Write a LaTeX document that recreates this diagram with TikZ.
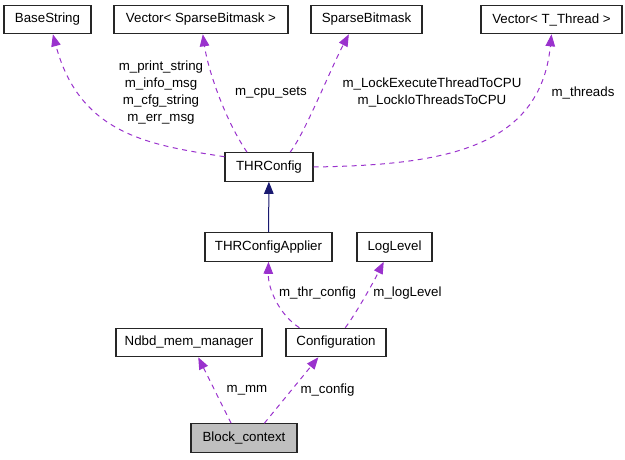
\documentclass[tikz,border=0pt]{standalone}
\usepackage{fontspec}
\setmainfont{Liberation Sans}
\usetikzlibrary{arrows.meta}
\definecolor{memberline}{HTML}{9A32CD}
\definecolor{inheritline}{HTML}{191970}
\definecolor{focusfill}{HTML}{BFBFBF}
\tikzset{
    class/.style = {
        draw = black!85,
        rectangle,
        line width = 1.1pt,
        inner sep = 0pt,
        minimum height = 28.5pt,
        font = \fontsize{13.3}{17}\selectfont,
        },
    focus/.style = {
        fill = focusfill,
        },
    member/.style = {
        draw = memberline,
        line width = 1pt,
        dash pattern = on 5pt off 4.5pt,
        -{Triangle[length=12pt, width=9.5pt, fill=memberline]},
        },
    inherit/.style = {
        draw = inheritline,
        line width = 1pt,
        -{Triangle[length=12pt, width=9.5pt, fill=inheritline]},
        },
    label/.style = {
        align = center,
        inner sep = 0pt,
        font = \fontsize{13.3}{17}\selectfont,
        },
}
\begin{document}
\begin{tikzpicture}[x=1pt, y=-1pt]
            \useasboundingbox (0,0) rectangle (625,459);

            % classes
            \node[class, minimum width=87pt] (basestring) at (47.5,19.5) {BaseString};
            \node[class, minimum width=174pt] (vecsparse) at (201,19.5) {Vector< SparseBitmask >};
            \node[class, minimum width=111pt] (sparse) at (366.5,19.5) {SparseBitmask};
            \node[class, minimum width=141pt] (vecthread) at (551.5,19.5) {Vector< T\_Thread >};
            \node[class, minimum width=88pt] (thrconfig) at (269,167) {THRConfig};
            \node[class, minimum width=127pt] (applier) at (268.5,247) {THRConfigApplier};
            \node[class, minimum width=75pt] (loglevel) at (394.5,247) {LogLevel};
            \node[class, minimum width=146pt] (memmanager) at (189,342.5) {Ndbd\_mem\_manager};
            \node[class, minimum width=100pt] (configuration) at (336,342.5) {Configuration};
            \node[class, focus, minimum width=106pt] (blockctx) at (244,438) {Block\_context};

            % member labels
            \node[label] (lstrings) at (161,93) {m\_print\_string\\m\_info\_msg\\m\_cfg\_string\\m\_err\_msg};
            \node[label] (lcpusets) at (271,93) {m\_cpu\_sets};
            \node[label] (llock) at (432,92) {m\_LockExecuteThreadToCPU\\m\_LockIoThreadsToCPU};
            \node[label] (lthreads) at (583,93) {m\_threads};
            \node[label] (lthrconfig) at (317.5,293) {m\_thr\_config};
            \node[label] (lloglevel) at (407.5,293) {m\_logLevel};
            \node[label] (lmm) at (247,390) {m\_mm};
            \node[label] (lconfig) at (327.5,390) {m\_config};

            \draw[member] (thrconfig.167) .. controls (150,145) and (80,135) .. (basestring.-70);
            \draw[member] (thrconfig.146) .. controls (225,120) and (208,70) .. (vecsparse.-83);
            \draw[member] (thrconfig.35) .. controls (305,133) and (330,70) .. (sparse.-140);
            \draw[member] (thrconfig.east) .. controls (440,165) and (540,150) .. (vecthread.south);
            \path (applier) edge[inherit] (thrconfig);
            \draw[member] (configuration.158) .. controls (280,315) and (268,290) .. (applier.south);
            \draw[member] (configuration.58) .. controls (355,315) and (372,285) .. (loglevel.-126);
            \path (blockctx.131) edge[member] (memmanager.-58);
            \path (blockctx.36) edge[member] (configuration.-140);
        \end{tikzpicture}
\end{document}
